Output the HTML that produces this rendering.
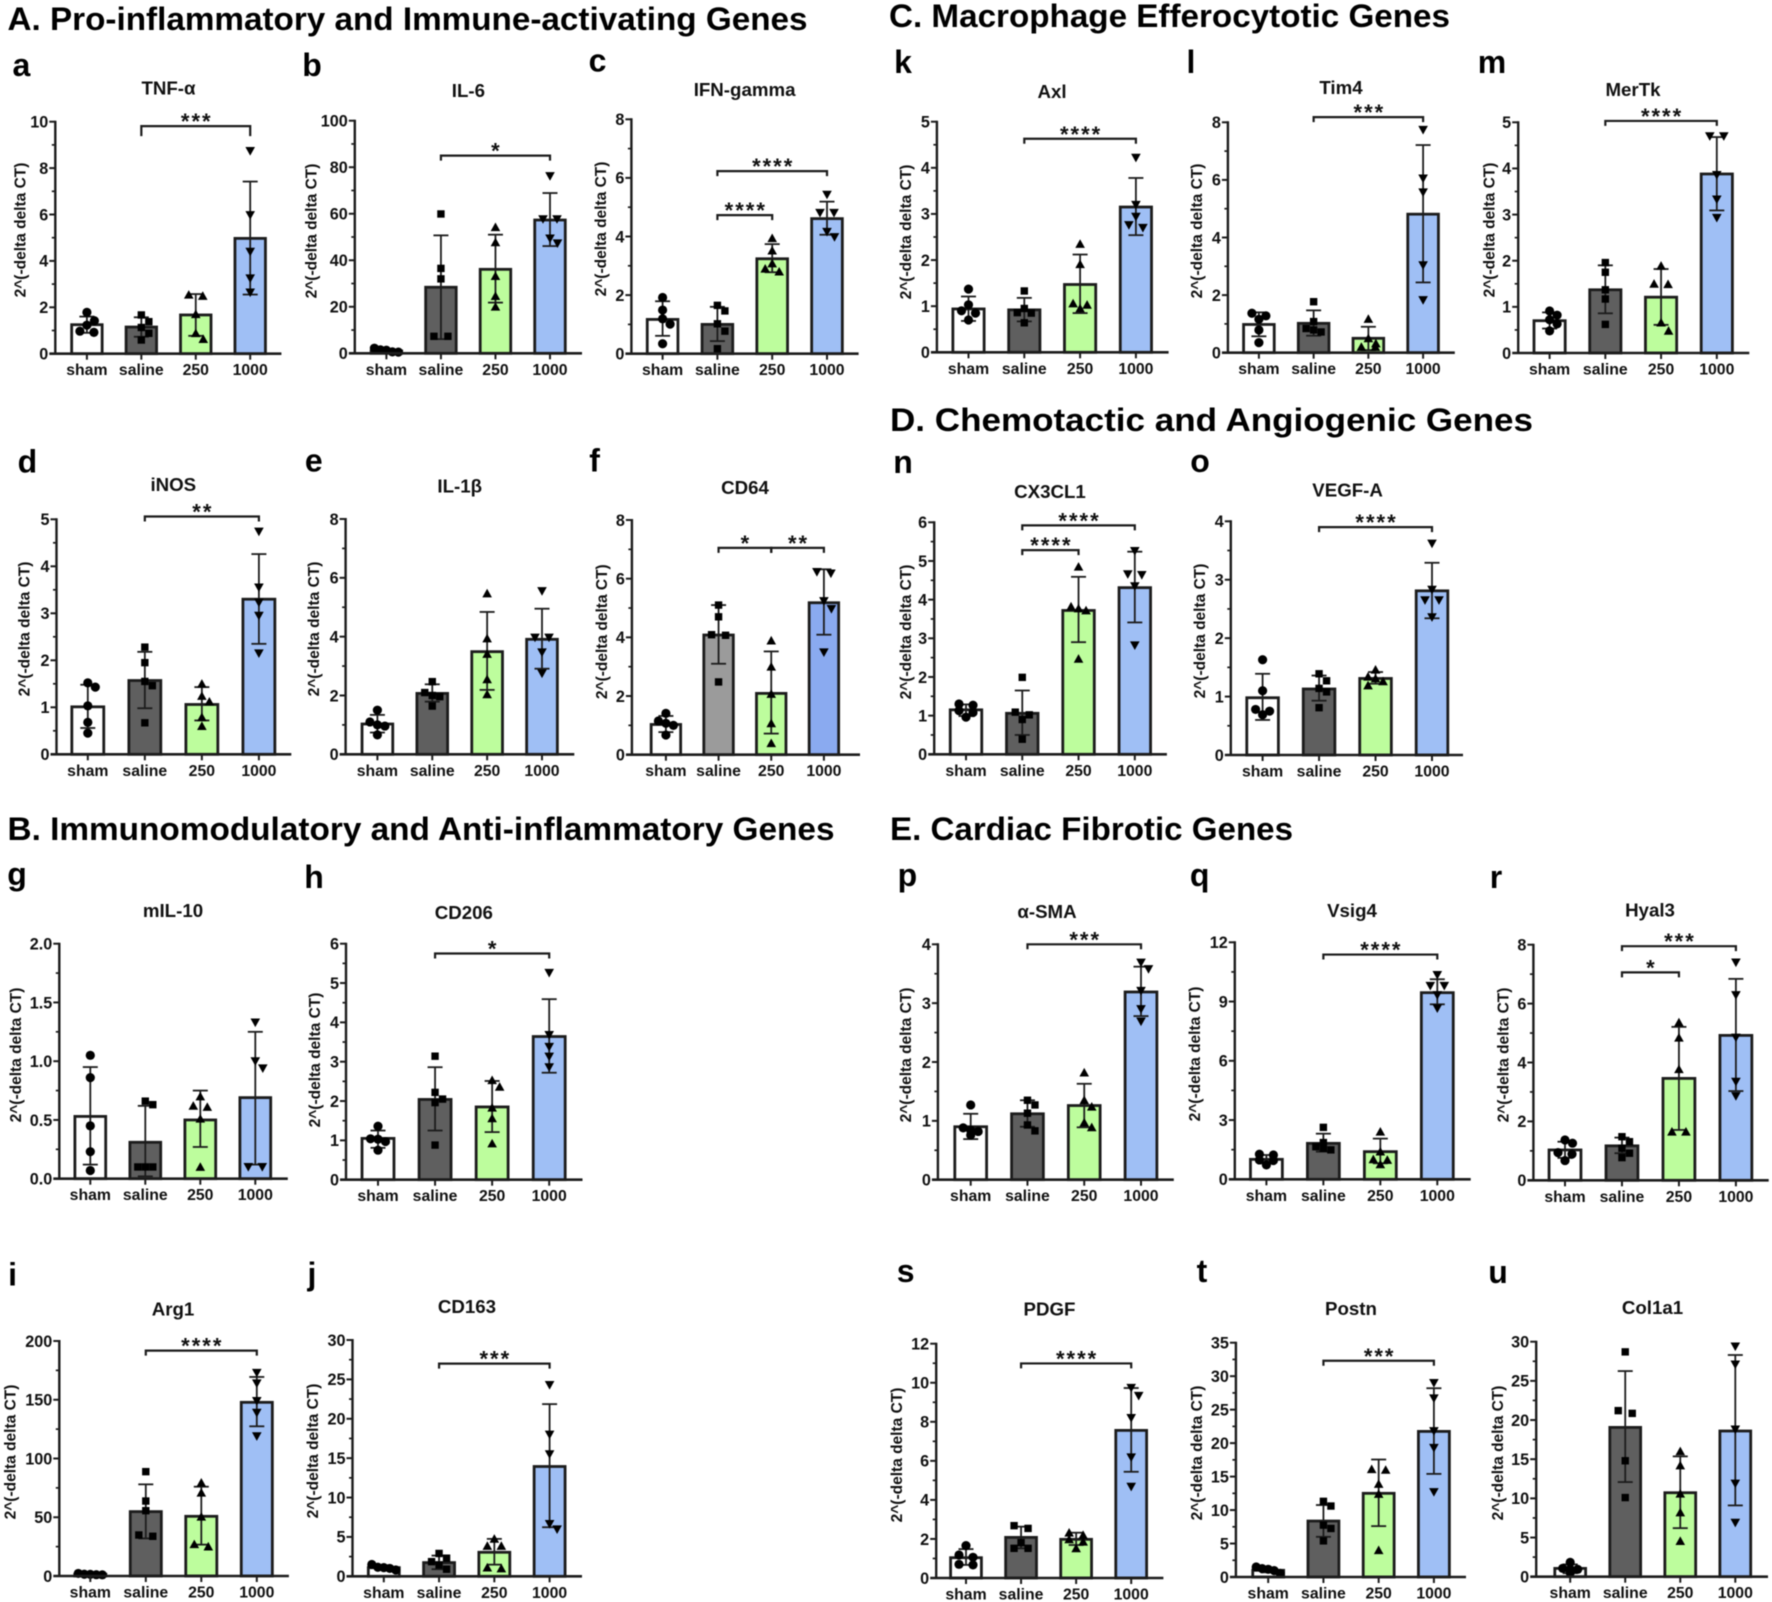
<!DOCTYPE html>
<html lang="en">
<head>
<meta charset="utf-8">
<title>Gene expression bar charts</title>
<style>
html,body{margin:0;padding:0;background:#fff;width:1772px;height:1602px;overflow:hidden}
svg{display:block;filter:blur(0.45px)}
text{font-family:"Liberation Sans",Arial,sans-serif;font-weight:bold;fill:#111}
.hd{font-size:32px;fill:#000}
</style>
</head>
<body>
<svg id="figure" xmlns="http://www.w3.org/2000/svg" width="1772" height="1602" viewBox="0 0 1772 1602">
<rect width="1772" height="1602" fill="#fff"/>
<text class="hd" x="7.5" y="30" textLength="800" lengthAdjust="spacingAndGlyphs">A. Pro-inflammatory and Immune-activating Genes</text>
<text class="hd" x="889" y="27" textLength="561" lengthAdjust="spacingAndGlyphs">C. Macrophage Efferocytotic Genes</text>
<text class="hd" x="890" y="431" textLength="643" lengthAdjust="spacingAndGlyphs">D. Chemotactic and Angiogenic Genes</text>
<text class="hd" x="7.5" y="840" textLength="827" lengthAdjust="spacingAndGlyphs">B. Immunomodulatory and Anti-inflammatory Genes</text>
<text class="hd" x="890" y="840" textLength="403" lengthAdjust="spacingAndGlyphs">E. Cardiac Fibrotic Genes</text>
</svg>
<script>
const categories=['sham','saline','250','1000'];

const aTicks=['0','2','4','6','8','10'];
const aMeans=[1.25,1.15,1.67,4.97];
const aUpper=[1.6,1.57,2.57,7.42];
const aLower=[0.9,0.73,0.77,2.55];
const aPoints=[[1.78,1.42,1.23,0.97,0.92],[1.67,1.38,1.13,0.88,0.59],[2.54,2.49,1.7,0.88,0.63],[8.74,5.98,4.4,3.25,2.64]];
const aBrackets=[[1,3,9.81,'***',10]];

const bTicks=['0','20','40','60','80','100'];
const bMeans=[1,28.4,36.1,57.3];
const bUpper=[1.6,50.7,51,68.9];
const bLower=[0.4,6.1,21.8,46.1];
const bPoints=[[2.2,1.5,1.3,0.6,0.5],[59.9,36.5,32,7.3,7.3],[54.2,47.7,33.2,24.6,20],[76.2,57.7,57.7,49.4,47.3]];
const bBrackets=[[1,3,85,'*',5]];

const cTicks=['0','2','4','6','8'];
const cMeans=[1.17,1,3.24,4.61];
const cUpper=[1.79,1.6,3.74,5.19];
const cLower=[0.61,0.43,2.78,4.06];
const cPoints=[[1.92,1.49,1.19,1.01,0.34],[1.65,1.46,1.02,0.77,0.17],[3.94,3.52,3.08,2.9,2.8],[5.43,4.81,4.81,4.16,3.98]];
const cBrackets=[[1,3,6.23,'****',5],[1,2,4.73,'****',5]];

const dTicks=['0','1','2','3','4','5'];
const dMeans=[1.01,1.57,1.06,3.3];
const dUpper=[1.48,2.18,1.43,4.26];
const dLower=[0.56,0.98,0.72,2.35];
const dPoints=[[1.52,1.43,1.03,0.68,0.45],[2.28,1.95,1.55,1.46,0.67],[1.5,1.24,1.12,0.79,0.6],[4.74,3.55,3.23,2.95,2.15]];
const dBrackets=[[1,3,5.06,'**',5]];

const eTicks=['0','2','4','6','8'];
const eMeans=[1.03,2.07,3.49,3.91];
const eUpper=[1.34,2.38,4.84,4.95];
const eLower=[0.74,1.79,2.19,2.91];
const ePoints=[[1.5,1.1,1,0.96,0.66],[2.47,2.1,2,1.96,1.64],[5.47,3.94,3.41,2.55,2.04],[5.55,3.97,3.97,3.47,2.75]];
const eBrackets=[];

const fTicks=['0','2','4','6','8'];
const fMeans=[1.03,4.08,2.09,5.18];
const fUpper=[1.32,5.1,3.52,6.32];
const fLower=[0.77,3.1,0.72,4.09];
const fPoints=[[1.41,1.15,1.07,1,0.67],[5.1,4.7,4.09,4.07,2.48],[3.89,3,2.07,1.07,0.39],[6.23,6.18,5.24,4.97,3.49]];
const fBrackets=[[1,2,7.05,'*',5],[2,3,7.05,'**',5]];

const gTicks=['0.0','0.5','1.0','1.5','2.0'];
const gMeans=[0.53,0.31,0.5,0.69];
const gUpper=[0.95,0.62,0.75,1.25];
const gLower=[0.12,0.02,0.27,0.12];
const gPoints=[[1.05,0.86,0.45,0.23,0.07],[0.66,0.63,0.1,0.1,0.1],[0.7,0.62,0.61,0.51,0.1],[1.33,1,0.94,0.1,0.1]];
const gBrackets=[];

const hTicks=['0','1','2','3','4','5','6'];
const hMeans=[1.05,2.04,1.85,3.64];
const hUpper=[1.25,2.86,2.51,4.59];
const hLower=[0.81,1.25,1.21,2.72];
const hPoints=[[1.36,1.04,1.03,0.97,0.75],[3.14,2.22,2.05,1.96,0.88],[2.53,2.36,1.83,1.56,0.92],[5.26,3.68,3.38,3.13,2.86]];
const hBrackets=[[1,3,5.75,'*',5]];

const iTicks=['0','50','100','150','200'];
const iMeans=[1.5,54.8,50.8,147.8];
const iUpper=[2.1,78,76,169.4];
const iLower=[0.9,32,26.7,127.4];
const iPoints=[[2.2,1.5,1.4,1.1,1],[88.8,63.8,55.6,34.9,33.8],[79.4,70.9,50.5,27,25],[173,164,149,139,119]];
const iBrackets=[[1,3,191.8,'****',5]];

const jTicks=['0','5','10','15','20','25','30'];
const jMeans=[1.1,1.74,3.05,13.94];
const jUpper=[1.4,2.63,4.75,21.86];
const jLower=[0.8,0.9,1.48,6.23];
const jPoints=[[1.5,1.15,1.1,1,0.8],[2.9,2.3,1.86,1.44,0.9],[4.75,3.85,3.85,1.1,1],[24.3,18,15.5,6.65,5.97]];
const jBrackets=[[1,3,27,'***',5]];

const kTicks=['0','1','2','3','4','5'];
const kMeans=[0.94,0.92,1.47,3.15];
const kUpper=[1.21,1.18,2.12,3.78];
const kLower=[0.68,0.67,0.85,2.54];
const kPoints=[[1.37,1.03,0.9,0.85,0.7],[1.33,0.95,0.86,0.85,0.64],[2.35,1.91,1.06,1.03,0.95],[4.22,3.2,2.94,2.76,2.7]];
const kBrackets=[[1,3,4.63,'****',5]];

const lTicks=['0','2','4','6','8'];
const lMeans=[0.98,1.02,0.5,4.81];
const lUpper=[1.4,1.47,0.9,7.21];
const lLower=[0.57,0.59,0.09,2.44];
const lPoints=[[1.37,1.28,1.16,0.79,0.35],[1.77,1.08,0.84,0.79,0.72],[1.17,0.5,0.32,0.2,0.2],[7.74,6.05,5.57,3.04,1.83]];
const lBrackets=[[1,3,8.18,'***',5]];

const mTicks=['0','1','2','3','4','5'];
const mMeans=[0.7,1.37,1.21,3.88];
const mUpper=[0.88,1.9,1.82,4.68];
const mLower=[0.53,0.86,0.61,3.09];
const mPoints=[[0.91,0.82,0.72,0.63,0.48],[1.96,1.75,1.37,1.17,0.62],[1.89,1.5,1.49,0.66,0.48],[4.7,4.7,3.86,3.33,2.93]];
const mBrackets=[[1,3,5.03,'****',5]];

const nTicks=['0','1','2','3','4','5','6'];
const nMeans=[1.15,1.06,3.72,4.31];
const nUpper=[1.29,1.65,4.59,5.24];
const nLower=[0.99,0.5,2.9,3.41];
const nPoints=[[1.3,1.27,1.13,1.08,0.96],[1.99,1.09,1.02,0.9,0.39],[4.85,3.82,3.77,3.72,2.47],[5.26,4.66,4.64,4.35,2.82]];
const nBrackets=[[1,3,5.92,'****',5],[1,2,5.28,'****',5]];

const oTicks=['0','1','2','3','4'];
const oMeans=[0.98,1.13,1.31,2.81];
const oUpper=[1.39,1.36,1.42,3.29];
const oLower=[0.6,0.93,1.22,2.34];
const oPoints=[[1.63,1.1,0.78,0.75,0.69],[1.39,1.27,1.14,1.08,0.81],[1.46,1.34,1.31,1.26,1.19],[3.62,2.83,2.65,2.65,2.36]];
const oBrackets=[[1,3,3.9,'****',5]];

const pTicks=['0','1','2','3','4'];
const pMeans=[0.9,1.12,1.26,3.19];
const pUpper=[1.12,1.35,1.63,3.62];
const pLower=[0.69,0.9,0.89,2.78];
const pPoints=[[1.27,0.88,0.84,0.82,0.76],[1.35,1.27,1.13,0.93,0.83],[1.82,1.35,1.24,0.97,0.89],[3.69,3.58,3.21,2.9,2.69]];
const pBrackets=[[1,3,4,'***',5]];

const qTicks=['0','3','6','9','12'];
const qMeans=[1.01,1.82,1.4,9.45];
const qUpper=[1.23,2.31,2.06,10.13];
const qLower=[0.81,1.4,0.81,8.86];
const qPoints=[[1.27,1.23,0.98,0.95,0.73],[2.63,1.86,1.65,1.57,1.49],[2.41,1.4,1.01,0.98,0.76],[10.35,9.8,9.8,9.33,8.66]];
const qBrackets=[[1,3,11.38,'****',5]];

const rTicks=['0','2','4','6','8'];
const rMeans=[1.03,1.17,3.46,4.92];
const rUpper=[1.31,1.45,5.21,6.84];
const rLower=[0.76,0.92,1.71,3.03];
const rPoints=[[1.37,1.26,0.94,0.89,0.67],[1.48,1.31,1.09,0.92,0.77],[5.36,4.84,3.77,1.65,1.65],[7.4,6.29,4.85,3.35,2.86]];
const rBrackets=[[1,3,7.95,'***',5],[1,2,7.06,'*',5]];

const sTicks=['0','2','4','6','8','10','12'];
const sMeans=[1.04,2.08,1.98,7.56];
const sUpper=[1.48,2.63,2.32,9.73];
const sLower=[0.67,1.52,1.69,5.44];
const sPoints=[[1.66,1.18,1.06,0.7,0.67],[2.68,2.54,1.81,1.52,1.52],[2.32,2.2,1.98,1.86,1.52],[9.74,9.33,8.2,6.18,4.68]];
const sBrackets=[[1,3,10.99,'****',5]];

const tTicks=['0','5','10','15','20','25','30','35'];
const tMeans=[1,8.36,12.5,21.75];
const tUpper=[1.3,10.75,17.55,28.2];
const tLower=[0.7,6,7.6,15.4];
const tPoints=[[1.5,1.25,1.15,0.95,0.55],[11.3,10.6,7.75,7.25,5.4],[16.1,16,13.9,12.4,4],[29,26.7,21.8,19.3,12.7]];
const tBrackets=[[1,3,32.3,'***',5]];

const uTicks=['0','5','10','15','20','25','30'];
const uMeans=[1.06,19.06,10.72,18.6];
const uUpper=[1.57,26.25,15.36,28.3];
const uLower=[0.45,12.08,6.2,9.1];
const uPoints=[[1.83,1.06,0.94,0.94,0.5],[28.7,21.2,20.85,14.8,10.1],[16,14.2,10.6,8.2,4.55],[29.4,27.1,18.8,11.9,6.9]];
const uBrackets=[];

const barFills=['#ffffff','#5f5f5f','#bdfd9d','#9fbff5'];
const panelFFills=['#ffffff','#9b9b9b','#bdfd9d','#8aaaf0'];

const panels=[
{id:'a',title:'TNF-α',ticks:aTicks,means:aMeans,upper:aUpper,lower:aLower,points:aPoints,brackets:aBrackets,box:[55.3,121.7,353.7,281.4,86.9,250.2],titlePos:[168.5,88],letterPos:[21.4,76],axisTitlePos:[20.7,230]},
{id:'b',title:'IL-6',ticks:bTicks,means:bMeans,upper:bUpper,lower:bLower,points:bPoints,brackets:bBrackets,box:[354.8,120.7,353.3,582,386.4,550],titlePos:[468.4,90.7],letterPos:[312,76],axisTitlePos:[311.5,231]},
{id:'c',title:'IFN-gamma',ticks:cTicks,means:cMeans,upper:cUpper,lower:cLower,points:cPoints,brackets:cBrackets,box:[631.4,119.3,353.7,858.6,662.6,827],titlePos:[744.6,89.3],letterPos:[597.5,71.7],axisTitlePos:[601,229]},
{id:'d',title:'iNOS',ticks:dTicks,means:dMeans,upper:dUpper,lower:dLower,points:dPoints,brackets:dBrackets,box:[56.5,519.3,754.3,291.3,87.8,258.9],titlePos:[173.3,484.7],letterPos:[27.4,472.7],axisTitlePos:[24.7,629]},
{id:'e',title:'IL-1β',ticks:eTicks,means:eMeans,upper:eUpper,lower:eLower,points:ePoints,brackets:eBrackets,box:[345.6,519,754.3,574.3,377.4,542],titlePos:[459.7,486],letterPos:[313.8,471.7],axisTitlePos:[313.8,629]},
{id:'f',title:'CD64',ticks:fTicks,means:fMeans,upper:fUpper,lower:fLower,points:fPoints,brackets:fBrackets,box:[631.9,520,754.7,860,665.9,823.9],titlePos:[745,487.3],letterPos:[594.6,471.7],axisTitlePos:[602,631.7],fills:panelFFills},
{id:'g',title:'mIL-10',ticks:gTicks,means:gMeans,upper:gUpper,lower:gLower,points:gPoints,brackets:gBrackets,box:[59.3,943.7,1178.7,287.8,90.3,255.3],titlePos:[173,910.7],letterPos:[17,885],axisTitlePos:[16,1055]},
{id:'h',title:'CD206',ticks:hTicks,means:hMeans,upper:hUpper,lower:hLower,points:hPoints,brackets:hBrackets,box:[346,943.7,1179.7,582.5,378,549.2],titlePos:[463.8,912.3],letterPos:[314,888],axisTitlePos:[315,1060]},
{id:'i',title:'Arg1',ticks:iTicks,means:iMeans,upper:iUpper,lower:iLower,points:iPoints,brackets:iBrackets,box:[59.3,1341,1576,288.9,90.3,256.8],titlePos:[173,1309],letterPos:[12.6,1285.7],axisTitlePos:[10.3,1452]},
{id:'j',title:'CD163',ticks:jTicks,means:jMeans,upper:jUpper,lower:jLower,points:jPoints,brackets:jBrackets,box:[352.5,1340,1576.3,582,383.8,549.6],titlePos:[467,1306.7],letterPos:[312,1285],axisTitlePos:[313,1451]},
{id:'k',title:'Axl',ticks:kTicks,means:kMeans,upper:kUpper,lower:kLower,points:kPoints,brackets:kBrackets,box:[936.9,121.7,352.3,1168.6,968.5,1135.9],titlePos:[1052,91.7],letterPos:[903,73],axisTitlePos:[906,232]},
{id:'l',title:'Tim4',ticks:lTicks,means:lMeans,upper:lUpper,lower:lLower,points:lPoints,brackets:lBrackets,box:[1227.9,122.3,352.7,1454.8,1258.9,1423.1],titlePos:[1341,87.3],letterPos:[1191,73],axisTitlePos:[1197,231]},
{id:'m',title:'MerTk',ticks:mTicks,means:mMeans,upper:mUpper,lower:mLower,points:mPoints,brackets:mBrackets,box:[1518.2,122.3,353,1749.3,1549.6,1716.8],titlePos:[1633,89.7],letterPos:[1492,73],axisTitlePos:[1489.5,230]},
{id:'n',title:'CX3CL1',ticks:nTicks,means:nMeans,upper:nUpper,lower:nLower,points:nPoints,brackets:nBrackets,box:[934.2,522.3,754.3,1166.9,966,1134.8],titlePos:[1050,491.7],letterPos:[903,473],axisTitlePos:[906,632]},
{id:'o',title:'VEGF-A',ticks:oTicks,means:oMeans,upper:oUpper,lower:oLower,points:oPoints,brackets:oBrackets,box:[1230.8,521.3,755,1463,1262.6,1432],titlePos:[1347.6,490],letterPos:[1200,472],axisTitlePos:[1200,631]},
{id:'p',title:'α-SMA',ticks:pTicks,means:pMeans,upper:pUpper,lower:pLower,points:pPoints,brackets:pBrackets,box:[937.9,944.3,1179.7,1173.8,970.7,1141],titlePos:[1047,911.7],letterPos:[907.4,886],axisTitlePos:[906,1055]},
{id:'q',title:'Vsig4',ticks:qTicks,means:qMeans,upper:qUpper,lower:qLower,points:qPoints,brackets:qBrackets,box:[1234.8,942.3,1179.3,1470.7,1266.4,1437.3],titlePos:[1352,910.7],letterPos:[1199.7,886],axisTitlePos:[1195,1054]},
{id:'r',title:'Hyal3',ticks:rTicks,means:rMeans,upper:rUpper,lower:rLower,points:rPoints,brackets:rBrackets,box:[1533.4,944.7,1180.3,1768.7,1565,1735.9],titlePos:[1650,910],letterPos:[1496,888],axisTitlePos:[1503.5,1055]},
{id:'s',title:'PDGF',ticks:sTicks,means:sMeans,upper:sUpper,lower:sLower,points:sPoints,brackets:sBrackets,box:[936.2,1343.7,1578,1163.4,966,1131.2],titlePos:[1049.5,1309],letterPos:[905.7,1282],axisTitlePos:[897,1455]},
{id:'t',title:'Postn',ticks:tTicks,means:tMeans,upper:tUpper,lower:tLower,points:tPoints,brackets:tBrackets,box:[1235.9,1342.7,1577,1466,1268.2,1433.9],titlePos:[1351,1308.7],letterPos:[1202,1282],axisTitlePos:[1197,1453]},
{id:'u',title:'Col1a1',ticks:uTicks,means:uMeans,upper:uUpper,lower:uLower,points:uPoints,brackets:uBrackets,box:[1536.2,1341.7,1576.7,1768,1570.2,1735.3],titlePos:[1652.5,1307.7],letterPos:[1498,1283],axisTitlePos:[1498,1453]}
];

const NS='http://www.w3.org/2000/svg';
const INK='#1c1c1c';
function el(parent,tag,attrs,txt){
  const e=document.createElementNS(NS,tag);
  for(const k in attrs){e.setAttribute(k,attrs[k]);}
  if(txt!==undefined){e.textContent=txt;}
  parent.appendChild(e);
  return e;
}
function swarmOffsets(vals,yScale){
  const order=vals.map(function(v,i){return i;}).sort(function(a,b){return vals[b]-vals[a];});
  const out=vals.map(function(){return 0;});
  const placed=[];
  let row=[];
  function place(idx,x){
    out[idx]=x;
    placed.push({x:x,y:yScale(vals[idx])});
  }
  function flush(){
    const n=row.length;
    if(n===1){
      const y=yScale(vals[row[0]]);
      const slots=[0,7.5,-7.5];
      let chosen=0;
      for(let s=0;s<slots.length;s++){
        const hit=placed.some(function(p){return Math.abs(p.x-slots[s])<6&&Math.abs(p.y-y)<8.5;});
        if(!hit){chosen=slots[s];break;}
      }
      place(row[0],chosen);
    }else{
      const spread=n===2?14:n===3?15:(n-1)*6;
      row.forEach(function(idx,k){place(idx,-spread/2+k*spread/(n-1));});
    }
    row=[];
  }
  order.forEach(function(idx){
    if(row.length){
      const prev=row[row.length-1];
      if(Math.abs(yScale(vals[prev])-yScale(vals[idx]))>=3.2){flush();}
    }
    row.push(idx);
  });
  flush();
  return out;
}
function drawMarker(g,kind,x,y){
  if(kind===0){return el(g,'circle',{cx:x,cy:y,r:4.6,fill:'#000'});}
  if(kind===1){return el(g,'rect',{x:x-3.7,y:y-3.7,width:7.4,height:7.4,fill:'#000'});}
  if(kind===2){return el(g,'polygon',{points:(x-4.8)+','+(y+3.9)+' '+(x+4.8)+','+(y+3.9)+' '+x+','+(y-4.7),fill:'#000'});}
  return el(g,'polygon',{points:(x-4.8)+','+(y-3.9)+' '+(x+4.8)+','+(y-3.9)+' '+x+','+(y+4.7),fill:'#000'});
}
function drawPanel(p){
  const svg=document.getElementById('figure');
  const axisX=p.box[0],top=p.box[1],base=p.box[2],xEnd=p.box[3],c0=p.box[4],c3=p.box[5];
  const tickVals=p.ticks.map(parseFloat);
  const yMax=tickVals[tickVals.length-1];
  const yScale=function(v){return base-(v/yMax)*(base-top);};
  const dx=(c3-c0)/(categories.length-1);
  const xScale=function(i){return c0+i*dx;};
  const barW=dx*0.56;
  const fills=p.fills||barFills;

  const g=el(svg,'g',{});
  
  

  const letter=el(g,'text',{x:p.letterPos[0],y:p.letterPos[1],'text-anchor':'middle','font-size':32,style:'fill:#000'},p.id);
  
  

  const title=el(g,'text',{x:p.titlePos[0],y:p.titlePos[1]+6.5,'text-anchor':'middle','font-size':18.7},p.title);
  
  

  const yTitle=el(g,'text',{x:0,y:0,'text-anchor':'middle','font-size':15.5,transform:'translate('+(p.axisTitlePos[0]+5)+','+p.axisTitlePos[1]+') rotate(-90)'},'2^(-delta delta CT)');
  
  

  categories.forEach(function(cat,i){
    const bx=xScale(i);
    const by=yScale(p.means[i]);
    const bar=el(g,'rect',{x:bx-barW/2,y:by,width:barW,height:base-by,fill:fills[i],stroke:INK,'stroke-width':2.8});
    
    

    const eg=el(g,'g',{stroke:INK,'stroke-width':1.8});
    
    
    const yu=yScale(p.upper[i]),yl=yScale(p.lower[i]);
    el(eg,'line',{x1:bx,x2:bx,y1:yu,y2:yl});
    el(eg,'line',{x1:bx-7.5,x2:bx+7.5,y1:yu,y2:yu});
    el(eg,'line',{x1:bx-7.5,x2:bx+7.5,y1:yl,y2:yl});

    const offs=swarmOffsets(p.points[i],yScale);
    p.points[i].forEach(function(v,k){
      const mk=drawMarker(g,i,bx+offs[k],yScale(v));
      
      
    });
  });

  const yAxis=el(g,'line',{x1:axisX,x2:axisX,y1:top-1,y2:base+1,stroke:INK,'stroke-width':2.4});
  
  
  const xAxis=el(g,'line',{x1:axisX-6,x2:xEnd,y1:base,y2:base,stroke:INK,'stroke-width':2.6});
  
  

  tickVals.forEach(function(v,i){
    const y=yScale(v);
    if(i>0){
      const t=el(g,'line',{x1:axisX-6,x2:axisX,y1:y,y2:y,stroke:INK,'stroke-width':2});
      
      
    }
    if(i<tickVals.length-1){
      const ym=yScale((v+tickVals[i+1])/2);
      const mt=el(g,'line',{x1:axisX-3.5,x2:axisX,y1:ym,y2:ym,stroke:INK,'stroke-width':1.7});
      
      
    }
    const lab=el(g,'text',{x:axisX-7,y:y+5.8,'text-anchor':'end','font-size':16.2},p.ticks[i]);
    
    
  });

  categories.forEach(function(cat,i){
    const t=el(g,'line',{x1:xScale(i),x2:xScale(i),y1:base,y2:base+6,stroke:INK,'stroke-width':2});
    
    
    const lab=el(g,'text',{x:xScale(i),y:base+21.5,'text-anchor':'middle','font-size':15.8},cat);
    
    
  });

  p.brackets.forEach(function(b,i){
    const x1=xScale(b[0]),x2=xScale(b[1]),y=yScale(b[2]);
    const br=el(g,'polyline',{points:x1+','+(y+b[4])+' '+x1+','+y+' '+x2+','+y+' '+x2+','+(y+b[4]),fill:'none',stroke:INK,'stroke-width':2.2});
    
    
    const st=el(g,'text',{x:(x1+x2)/2+1,y:y+3,'text-anchor':'middle','font-size':22,'letter-spacing':2},b[3]);
    
    
  });
}
panels.forEach(drawPanel);
</script>
</body>
</html>
